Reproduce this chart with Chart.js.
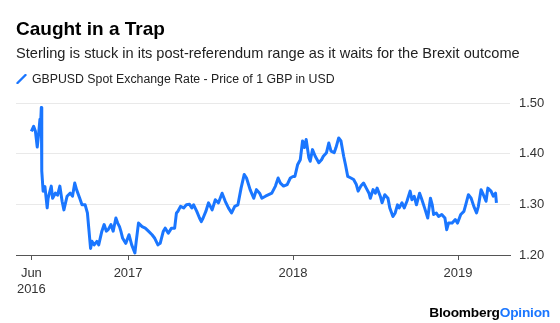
<!DOCTYPE html>
<html>
<head>
<meta charset="utf-8">
<script src="https://cdn.jsdelivr.net/npm/chart.js@4.4.1/dist/chart.umd.min.js"></script>
<style>
  body { margin: 0; background: #fff; }
  #wrap { position: relative; width: 560px; height: 323px; font-family: "Liberation Sans", Arial, sans-serif; color: #000; }
  #chart { position: absolute; left: 0; top: 0; }
  .title { position: absolute; left: 16px; top: 18px; font-size: 19px; line-height: 22px; font-weight: bold; }
  .subtitle { position: absolute; left: 16px; top: 44px; font-size: 14.6px; line-height: 18px; color: #222; }
  .legend { position: absolute; left: 16px; top: 71px; font-size: 12.3px; line-height: 16px; color: #222; }
  .legend .swatch { display: inline-block; width: 11px; height: 10px; vertical-align: -1px; margin-right: 5px; }
  .brand { position: absolute; right: 10px; top: 304px; font-size: 13.7px; line-height: 18px; font-weight: bold; letter-spacing: -0.2px; }
  .brand span { color: #1a76ff; }
</style>
</head>
<body>
<div id="wrap">
  <canvas id="chart" width="560" height="323"></canvas>
  <div class="title">Caught in a Trap</div>
  <div class="subtitle">Sterling is stuck in its post-referendum range as it waits for the Brexit outcome</div>
  <div class="legend"><svg class="swatch" viewBox="0 0 11 10"><line x1="1.5" y1="9" x2="9.5" y2="1" stroke="#1a76ff" stroke-width="2.4" stroke-linecap="round"/></svg>GBPUSD Spot Exchange Rate - Price of 1 GBP in USD</div>
  <div class="brand">Bloomberg<span>Opinion</span></div>
</div>
<script>
// GBPUSD spot, sampled a few times a month
const dates = [
  '2016-06-01', '2016-06-06', '2016-06-10', '2016-06-14', '2016-06-17', '2016-06-20', '2016-06-22', '2016-06-23', '2016-06-24', '2016-06-27',
  '2016-07-01', '2016-07-06', '2016-07-08', '2016-07-15', '2016-07-18', '2016-07-24', '2016-07-29',
  '2016-08-03', '2016-08-08', '2016-08-12', '2016-08-19', '2016-08-26', '2016-08-31',
  '2016-09-05', '2016-09-09', '2016-09-16', '2016-09-21', '2016-09-28',
  '2016-10-03', '2016-10-06', '2016-10-10', '2016-10-13', '2016-10-18', '2016-10-24', '2016-10-28',
  '2016-11-04', '2016-11-09', '2016-11-14', '2016-11-18', '2016-11-24', '2016-11-29',
  '2016-12-05', '2016-12-09', '2016-12-13', '2016-12-16', '2016-12-20', '2016-12-27',
  '2017-01-03', '2017-01-09', '2017-01-16', '2017-01-19', '2017-01-24',
  '2017-02-01', '2017-02-08', '2017-02-15', '2017-02-23',
  '2017-03-01', '2017-03-08', '2017-03-13', '2017-03-20', '2017-03-24', '2017-03-31',
  '2017-04-07', '2017-04-14', '2017-04-18', '2017-04-21', '2017-04-27',
  '2017-05-04', '2017-05-10', '2017-05-17', '2017-05-22', '2017-05-26',
  '2017-06-02', '2017-06-08', '2017-06-12', '2017-06-16', '2017-06-22', '2017-06-28',
  '2017-07-06', '2017-07-13', '2017-07-20', '2017-07-28',
  '2017-08-04', '2017-08-11', '2017-08-18', '2017-08-25',
  '2017-09-01', '2017-09-08', '2017-09-15', '2017-09-20', '2017-09-28',
  '2017-10-06', '2017-10-12', '2017-10-19', '2017-10-24',
  '2017-11-01', '2017-11-08', '2017-11-15', '2017-11-23', '2017-11-29',
  '2017-12-04', '2017-12-11', '2017-12-19', '2017-12-26',
  '2018-01-01', '2018-01-05', '2018-01-11', '2018-01-17', '2018-01-22', '2018-01-26', '2018-01-30',
  '2018-02-05', '2018-02-08', '2018-02-13', '2018-02-19', '2018-02-27',
  '2018-03-05', '2018-03-09', '2018-03-16', '2018-03-21', '2018-03-26',
  '2018-04-02', '2018-04-06', '2018-04-12', '2018-04-17', '2018-04-23', '2018-04-27',
  '2018-05-02', '2018-05-09', '2018-05-15', '2018-05-21', '2018-05-25', '2018-05-31',
  '2018-06-06', '2018-06-12', '2018-06-18', '2018-06-21', '2018-06-27',
  '2018-07-02', '2018-07-06', '2018-07-13', '2018-07-17', '2018-07-23', '2018-07-30',
  '2018-08-03', '2018-08-10', '2018-08-15', '2018-08-20', '2018-08-24', '2018-08-30',
  '2018-09-04', '2018-09-10', '2018-09-17', '2018-09-21', '2018-09-26',
  '2018-10-01', '2018-10-08', '2018-10-12', '2018-10-19', '2018-10-26',
  '2018-11-01', '2018-11-05', '2018-11-08', '2018-11-14', '2018-11-19', '2018-11-26',
  '2018-12-03', '2018-12-07', '2018-12-11', '2018-12-19', '2018-12-26', '2018-12-31',
  '2019-01-07', '2019-01-14', '2019-01-18', '2019-01-24', '2019-01-30',
  '2019-02-05', '2019-02-11', '2019-02-15', '2019-02-21', '2019-02-26',
  '2019-03-04', '2019-03-08', '2019-03-15', '2019-03-20', '2019-03-25', '2019-03-27'
];
const rates = [
  1.444, 1.454, 1.444, 1.413, 1.438, 1.468, 1.470, 1.491, 1.366, 1.326,
  1.335, 1.293, 1.312, 1.336, 1.312, 1.322, 1.318,
  1.336, 1.306, 1.289, 1.316, 1.322, 1.316,
  1.342, 1.329, 1.312, 1.299, 1.299,
  1.283, 1.253, 1.213, 1.227, 1.220, 1.227, 1.220,
  1.247, 1.260, 1.247, 1.250, 1.260, 1.247,
  1.273, 1.263, 1.256, 1.247, 1.233, 1.223,
  1.240, 1.220, 1.204, 1.227, 1.263,
  1.256, 1.253, 1.247, 1.240,
  1.233, 1.220, 1.223, 1.247, 1.253, 1.243,
  1.253, 1.253, 1.283, 1.286, 1.296,
  1.293, 1.299, 1.300, 1.293, 1.299,
  1.286, 1.273, 1.266, 1.273, 1.286, 1.303,
  1.289, 1.309, 1.303, 1.322,
  1.306, 1.293, 1.283, 1.296,
  1.299, 1.332, 1.359, 1.352, 1.329,
  1.312, 1.329, 1.322, 1.312,
  1.316, 1.319, 1.322, 1.336, 1.352,
  1.342, 1.336, 1.339, 1.352,
  1.355, 1.355, 1.378, 1.388, 1.425, 1.412, 1.428,
  1.392, 1.385, 1.408, 1.395, 1.382,
  1.388, 1.395, 1.402, 1.421, 1.405,
  1.402, 1.412, 1.431, 1.425, 1.395, 1.378,
  1.355, 1.352, 1.349, 1.339, 1.326, 1.336,
  1.342, 1.332, 1.322, 1.312, 1.329,
  1.322, 1.332, 1.316, 1.303, 1.319, 1.312,
  1.293, 1.276, 1.283, 1.299, 1.293, 1.303,
  1.293, 1.306, 1.326, 1.309, 1.316,
  1.299, 1.322, 1.312, 1.293, 1.273,
  1.312, 1.299, 1.280, 1.283, 1.276, 1.280,
  1.273, 1.250, 1.263, 1.263, 1.270, 1.263,
  1.280, 1.286, 1.299, 1.319, 1.312,
  1.296, 1.283, 1.296, 1.329, 1.319,
  1.306, 1.332, 1.326, 1.316, 1.322, 1.303
];
const tickDates = ['2016-06-01', '2017-01-01', '2018-01-01', '2019-01-01'];
const tickLabels = [['Jun', '2016'], '2017', '2018', '2019'];
const yTicks = [1.20, 1.30, 1.40, 1.50];

// x axis is plain days counted from the first date
const origin = Date.parse(dates[0]);
const dayNum = s => (Date.parse(s) - origin) / 864e5;

const blue = '#1a76ff';
const font = { family: '"Liberation Sans", Arial, sans-serif', size: 13 };

new Chart(document.getElementById('chart'), {
  type: 'line',
  data: {
    datasets: [{
      label: 'GBPUSD Spot Exchange Rate - Price of 1 GBP in USD',
      data: dates.map((d, i) => ({ x: dayNum(d), y: rates[i] })),
      borderColor: blue,
      borderWidth: 3,
      borderJoinStyle: 'round',
      pointRadius: 0,
      tension: 0,
      fill: false
    }]
  },
  options: {
    responsive: false,
    animation: false,
    events: [],
    layout: { padding: { top: 103, left: 16, right: 0, bottom: 0 } },
    plugins: { legend: { display: false }, tooltip: { enabled: false } },
    scales: {
      x: {
        type: 'linear',
        min: dayNum('2016-04-28'),
        max: dayNum('2019-04-26'),
        afterBuildTicks: scale => { scale.ticks = tickDates.map(d => ({ value: dayNum(d) })); },
        afterFit: scale => { scale.height = 68; },
        grid: { drawOnChartArea: false, drawTicks: true, tickLength: 5, color: '#555', lineWidth: 1 },
        border: { display: true, color: '#555', width: 1 },
        ticks: {
          autoSkip: false,
          maxRotation: 0,
          padding: 6,
          color: '#333',
          font: font,
          callback: (v, i) => tickLabels[i]
        }
      },
      y: {
        position: 'right',
        min: 1.2,
        max: 1.5,
        afterBuildTicks: scale => { scale.ticks = yTicks.map(v => ({ value: v })); },
        afterFit: scale => { scale.width = 50; },
        grid: { color: '#e9e9e9', lineWidth: 1, drawTicks: false },
        border: { display: false },
        ticks: {
          padding: 9,
          color: '#333',
          font: font,
          callback: v => v.toFixed(2)
        }
      }
    }
  }
});
</script>
</body>
</html>
